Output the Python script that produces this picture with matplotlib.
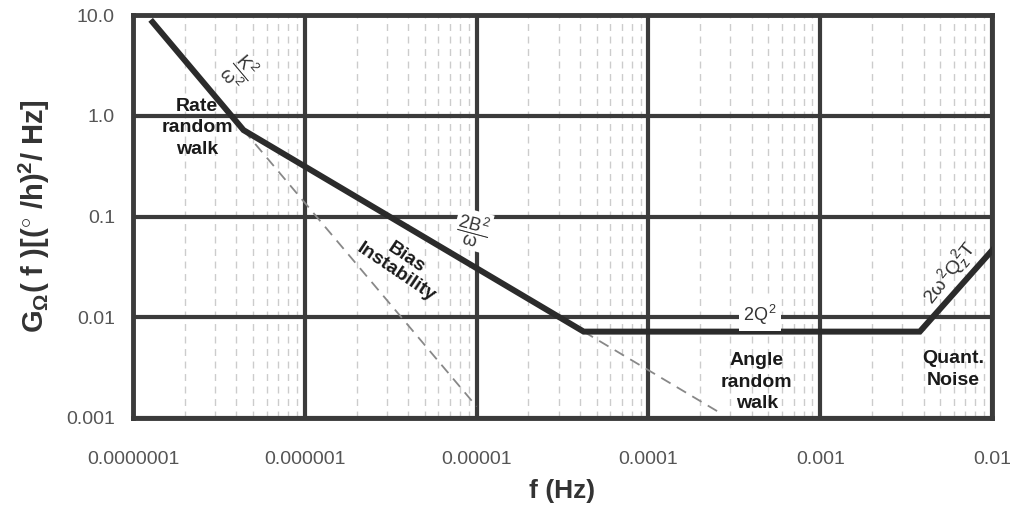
import numpy as np
import matplotlib
matplotlib.use("Agg")
import matplotlib.pyplot as plt

plt.rcParams['font.family'] = ['Liberation Sans', 'DejaVu Sans']
plt.rcParams['mathtext.fontset'] = 'custom'
plt.rcParams['mathtext.rm'] = 'Liberation Sans'
plt.rcParams['mathtext.it'] = 'Liberation Sans'
plt.rcParams['mathtext.bf'] = 'Liberation Sans:bold'

# PSD asymptote (thick line)
f_psd = [1.3e-7, 4.4e-7, 4.2e-5, 3.8e-3, 1e-2]
g_psd = [8.5, 0.72, 0.0072, 0.0072, 0.046]

# dashed extensions
f_rrw_ext = [4.4e-7, 1.0e-5]
g_rrw_ext = [0.72, 0.0013]
f_bias_ext = [4.2e-5, 2.6e-4]
g_bias_ext = [0.0072, 0.00113]

x_ticks = [1e-7, 1e-6, 1e-5, 1e-4, 1e-3, 1e-2]
x_labels = ['0.0000001', '0.000001', '0.00001', '0.0001', '0.001', '0.01']
y_ticks = [1e-3, 1e-2, 1e-1, 1, 10]
y_labels = ['0.001', '0.01', '0.1', '1.0', '10.0']

dark = '#3b3b3b'

fig = plt.figure(figsize=(10.14, 5.15), dpi=100)
ax = fig.add_axes([133/1014, 1-418/515, 859/1014, 403/515])
ax.set_xscale('log')
ax.set_yscale('log')
ax.set_xlim(1e-7, 1e-2)
ax.set_ylim(1e-3, 10)

ax.plot(f_rrw_ext, g_rrw_ext, color='#888888', lw=1.3, ls=(0, (6, 4)), zorder=3)
ax.plot(f_bias_ext, g_bias_ext, color='#888888', lw=1.3, ls=(0, (6, 4)), zorder=3)
ax.plot(f_psd, g_psd, color='#2b2b2b', lw=4.3, solid_joinstyle='miter', zorder=4)

ax.set_xticks(x_ticks)
ax.set_xticklabels(x_labels)
ax.set_yticks(y_ticks)
ax.set_yticklabels(y_labels)
ax.minorticks_on()
ax.yaxis.set_minor_locator(matplotlib.ticker.NullLocator())
ax.tick_params(which='both', length=0)
ax.tick_params(axis='x', pad=24, labelsize=14, labelcolor='#555555')
ax.tick_params(axis='y', pad=13, labelsize=14, labelcolor='#555555')

ax.grid(which='major', color=dark, lw=3, zorder=2)
ax.grid(which='minor', axis='x', color='#cccccc', lw=1, ls=(0, (5, 4)), zorder=1)
ax.set_axisbelow(True)
for s in ax.spines.values():
    s.set_color(dark)
    s.set_linewidth(3.5)

ax.set_xlabel('f (Hz)', fontsize=19, fontweight='bold', color='#333333', labelpad=8)
ax.set_ylabel(r'$\mathbf{G_{\Omega}(\ f\ )[(^{\circ}\ /h)^{2}/\ Hz]}$', fontsize=21, color='#333333', labelpad=10)

bold = dict(fontsize=14, fontweight='bold', color='#1a1a1a', ha='center', va='center',
            linespacing=1.35, transform=ax.transAxes, zorder=6)
ax.text(0.0745, 0.72, 'Rate\nrandom\nwalk', **bold)
ax.text(0.726, 0.089, 'Angle\nrandom\nwalk', **bold)
ax.text(0.955, 0.12, 'Quant.\nNoise', **bold)
ax.text(0.312, 0.38, 'Bias\nInstability', rotation=-34, **dict(bold, linespacing=1.05))

fml = dict(fontsize=13, color='#333333', ha='center', va='center', transform=ax.transAxes, zorder=6)
ax.text(0.125, 0.86, r'$\dfrac{K^2}{\omega^2}$', rotation=-50, **fml)
ax.text(0.395, 0.466, r'$\dfrac{2B^2}{\omega}$', rotation=-15,
        bbox=dict(facecolor='white', edgecolor='none', pad=1), **fml)
ax.text(0.73, 0.255, r'$2Q^2$', bbox=dict(facecolor='white', edgecolor='none', pad=3), **fml)
ax.text(0.951, 0.36, r'$2\omega^2 Q_z^2 T$', rotation=52, fontsize=14,
        **{k: v for k, v in fml.items() if k != 'fontsize'})

fig.savefig('out.png', dpi=100)
